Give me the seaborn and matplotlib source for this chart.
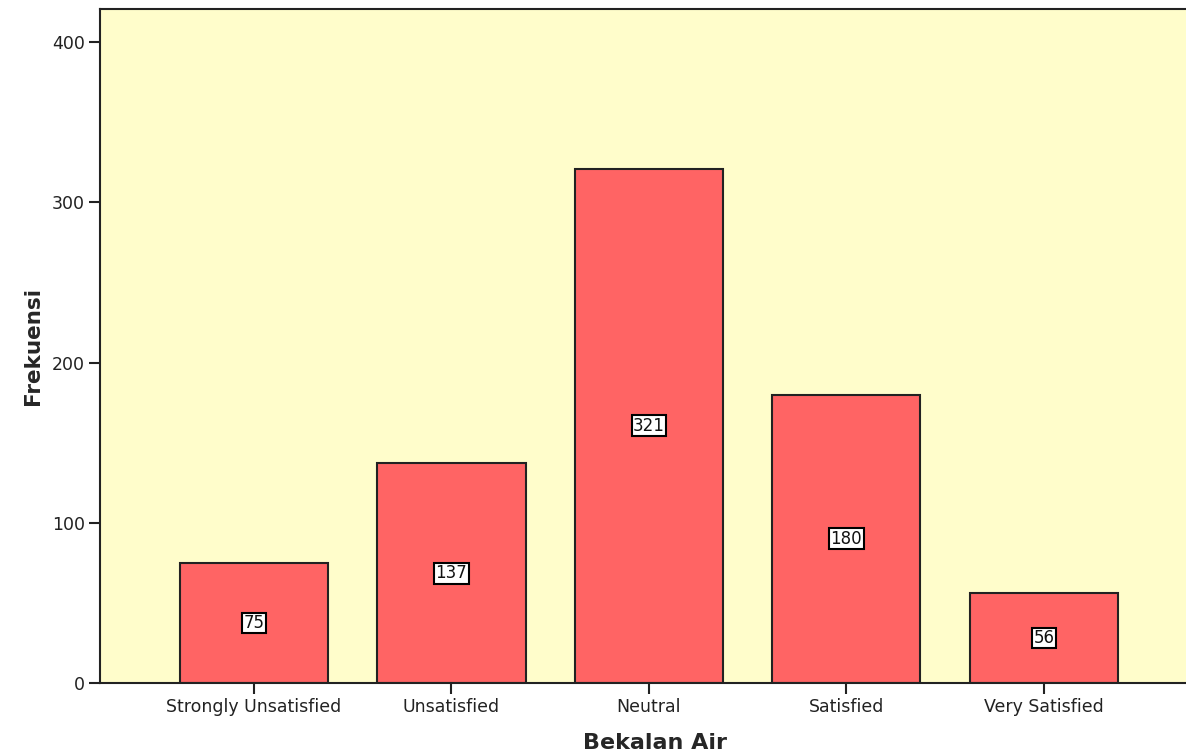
import numpy as np
import pandas as pd

import matplotlib
matplotlib.use("Agg")
import matplotlib.pyplot as plt
import seaborn as sns

# ── Data ─────────────────────────────────────────────────────────
categories = ["Strongly Unsatisfied", "Unsatisfied", "Neutral", "Satisfied", "Very Satisfied"]
counts = [75, 137, 321, 180, 56]
y_ticks = [0, 100, 200, 300, 400]

BG_COLOR = "#FFFDCB"
BAR_COLOR = "#FF6464"

df = pd.DataFrame({"Bekalan Air": categories, "Frekuensi": counts})

sns.set_theme(style="white")
plt.rcParams["font.family"] = ["DejaVu Sans"]

fig = plt.figure(figsize=(11.86, 7.56), dpi=100)
ax = fig.add_axes([100 / 1186, 73 / 756, 1.02 - 100 / 1186, (683 - 9) / 756])
ax.set_facecolor(BG_COLOR)

sns.barplot(data=df, x="Bekalan Air", y="Frekuensi", color=BAR_COLOR,
            saturation=1, width=0.75, edgecolor="#222222", linewidth=1.5, ax=ax)

# value labels in white boxes at mid-height
for i, v in enumerate(counts):
    ax.text(i, v / 2, str(v), ha="center", va="center", fontsize=12, color="#111111",
            bbox=dict(boxstyle="square,pad=0.08", facecolor="white", edgecolor="black", linewidth=1.5))

ax.set_xlim(-0.78, 4.84)
ax.set_ylim(0, 420.6)
ax.set_yticks(y_ticks)
ax.set_yticklabels([str(t) for t in y_ticks])

for side in ["left", "bottom", "top"]:
    ax.spines[side].set_visible(True)
    ax.spines[side].set_color("#222222")
    ax.spines[side].set_linewidth(1.5)
ax.spines["right"].set_visible(False)

ax.tick_params(axis="both", which="major", direction="out", length=8, width=1.5,
               color="#222222", labelsize=12.5, labelcolor="#222222", pad=3,
               bottom=True, left=True)
ax.tick_params(axis="x", pad=3)

ax.set_xlabel("Bekalan Air", fontsize=16, fontweight="bold", labelpad=12)
ax.set_ylabel("Frekuensi", fontsize=15.5, fontweight="bold", labelpad=6)

fig.savefig("out.png", dpi=100, facecolor="white")
plt.close()
